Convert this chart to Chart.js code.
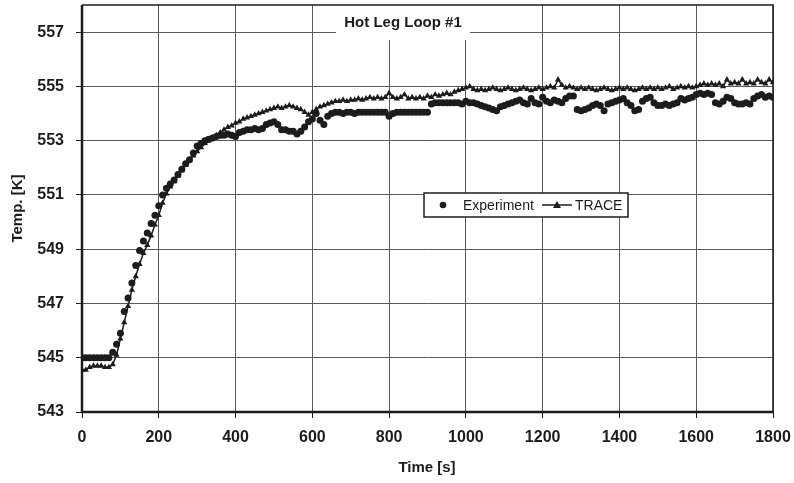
<!DOCTYPE html>
<html>
<head>
<meta charset="utf-8">
<script src="https://cdn.jsdelivr.net/npm/chart.js@4"></script>
<style>
  html, body { margin: 0; background: #fff; }
  #wrap { width: 794px; height: 483px; }
</style>
</head>
<body>
<div id="wrap"><canvas id="chart"></canvas></div>
<script>
// time [s], one sample every 10 s
const time = [
  0, 10, 20, 30, 40, 50, 60, 70, 80, 90,
  100, 110, 120, 130, 140, 150, 160, 170, 180, 190,
  200, 210, 220, 230, 240, 250, 260, 270, 280, 290,
  300, 310, 320, 330, 340, 350, 360, 370, 380, 390,
  400, 410, 420, 430, 440, 450, 460, 470, 480, 490,
  500, 510, 520, 530, 540, 550, 560, 570, 580, 590,
  600, 610, 620, 630, 640, 650, 660, 670, 680, 690,
  700, 710, 720, 730, 740, 750, 760, 770, 780, 790,
  800, 810, 820, 830, 840, 850, 860, 870, 880, 890,
  900, 910, 920, 930, 940, 950, 960, 970, 980, 990,
  1000, 1010, 1020, 1030, 1040, 1050, 1060, 1070, 1080, 1090,
  1100, 1110, 1120, 1130, 1140, 1150, 1160, 1170, 1180, 1190,
  1200, 1210, 1220, 1230, 1240, 1250, 1260, 1270, 1280, 1290,
  1300, 1310, 1320, 1330, 1340, 1350, 1360, 1370, 1380, 1390,
  1400, 1410, 1420, 1430, 1440, 1450, 1460, 1470, 1480, 1490,
  1500, 1510, 1520, 1530, 1540, 1550, 1560, 1570, 1580, 1590,
  1600, 1610, 1620, 1630, 1640, 1650, 1660, 1670, 1680, 1690,
  1700, 1710, 1720, 1730, 1740, 1750, 1760, 1770, 1780, 1790,
  1800
];

const experiment = [
  545.0, 545.0, 545.0, 545.0, 545.0, 545.0, 545.0, 545.0, 545.2, 545.5,
  545.9, 546.7, 547.2, 547.75, 548.4, 548.95, 549.3, 549.6, 549.95, 550.25,
  550.6, 551.0, 551.25, 551.4, 551.55, 551.75, 551.95, 552.15, 552.3, 552.55,
  552.8, 552.9, 553.0, 553.05, 553.1, 553.15, 553.2, 553.2, 553.25, 553.2,
  553.15, 553.3, 553.35, 553.4, 553.4, 553.45, 553.4, 553.45, 553.6, 553.65,
  553.7, 553.6, 553.4, 553.4, 553.35, 553.35, 553.25, 553.35, 553.5, 553.7,
  553.8, 554.0, 553.75, 553.6, 553.9, 554.0, 554.05, 554.05, 554.0, 554.05,
  554.05, 554.0, 554.05, 554.05, 554.05, 554.05, 554.05, 554.05, 554.05, 554.05,
  553.9, 554.0, 554.05, 554.05, 554.05, 554.05, 554.05, 554.05, 554.05, 554.05,
  554.05, 554.35, 554.4, 554.4, 554.4, 554.4, 554.4, 554.4, 554.4, 554.35,
  554.45, 554.4, 554.4, 554.35, 554.3, 554.25, 554.2, 554.15, 554.1, 554.25,
  554.3, 554.35, 554.4, 554.45, 554.5, 554.4, 554.35, 554.55, 554.4, 554.35,
  554.6, 554.45, 554.4, 554.5, 554.45, 554.4, 554.55, 554.65, 554.65, 554.15,
  554.1, 554.15, 554.2, 554.3, 554.35, 554.3, 554.1, 554.35, 554.4, 554.45,
  554.5, 554.55, 554.4, 554.3, 554.1, 554.15, 554.45, 554.55, 554.6, 554.4,
  554.3, 554.3, 554.35, 554.3, 554.35, 554.4, 554.55, 554.5, 554.55, 554.6,
  554.7, 554.75, 554.7, 554.75, 554.7, 554.4, 554.35, 554.45, 554.6, 554.55,
  554.4, 554.35, 554.35, 554.4, 554.35, 554.55, 554.65, 554.7, 554.6, 554.65,
  554.6
];

const trace = [
  544.55, 544.55, 544.65, 544.7, 544.7, 544.7, 544.65, 544.65, 544.75, 545.1,
  545.7, 546.3, 546.9, 547.5, 548.0, 548.45, 548.85, 549.15, 549.5, 549.9,
  550.25, 550.7, 551.05, 551.3, 551.5, 551.7, 551.9, 552.1, 552.3, 552.45,
  552.6, 552.75, 552.9, 553.0, 553.1, 553.2, 553.3, 553.4, 553.5, 553.55,
  553.65, 553.7, 553.8, 553.85, 553.9, 553.95, 554.0, 554.05, 554.1, 554.15,
  554.2, 554.25, 554.2, 554.25, 554.3, 554.25, 554.2, 554.15, 554.05, 553.95,
  554.05, 554.15, 554.25, 554.3, 554.35, 554.4, 554.45, 554.45, 554.5, 554.45,
  554.5, 554.5, 554.55, 554.5, 554.55, 554.6, 554.55, 554.6, 554.55, 554.6,
  554.75, 554.6, 554.55, 554.6, 554.7, 554.55, 554.6, 554.55, 554.6, 554.55,
  554.65, 554.6, 554.7, 554.65, 554.7, 554.75, 554.7, 554.8, 554.85, 554.9,
  554.95, 555.0, 554.9, 554.85, 554.9, 554.85, 554.9, 554.95, 554.9, 554.85,
  554.9, 554.95, 554.9, 554.85, 554.9, 554.95, 554.9, 554.85, 554.9, 554.95,
  554.9, 554.95, 555.0, 554.95, 555.25, 555.05, 554.95, 555.0, 554.95, 554.9,
  554.95, 554.9, 554.95, 554.9, 554.85, 554.9, 554.95, 554.9, 554.85, 554.9,
  554.95, 554.9, 554.95, 554.9, 554.85, 554.9, 554.95, 554.9, 554.95, 554.9,
  554.95, 554.9, 554.95, 555.0, 554.9, 554.95, 555.0, 554.95, 555.0, 554.95,
  555.0, 555.05, 555.1, 555.05, 555.1, 555.05, 555.1, 555.0, 555.25, 555.1,
  555.15, 555.1, 555.25, 555.1, 555.15, 555.1, 555.25, 555.15, 555.1, 555.25,
  555.15
];

const xTicks = [0, 200, 400, 600, 800, 1000, 1200, 1400, 1600, 1800];
const yTicks = [543, 545, 547, 549, 551, 553, 555, 557];

const ink = "#1c1c1c";
const gridColor = "#5a5a5a";
const fontFamily = "'Liberation Sans', Arial, sans-serif";

// keep the plot area where the reference has it
function fixBox(axis, size) {
  if (axis.isHorizontal()) axis.height = size; else axis.width = size;
  axis.paddingTop = 0;
  axis.paddingBottom = 0;
  axis.paddingLeft = 0;
  axis.paddingRight = 0;
}

// title, legend, frame and axis titles
const frame = {
  id: "frame",
  afterDatasetsDraw(chart) {
    const { ctx, chartArea: a } = chart;
    ctx.save();

    // title with white backing that cuts the grid
    ctx.fillStyle = "#fff";
    ctx.fillRect(336, a.top, 134, 35);
    ctx.fillStyle = ink;
    ctx.font = "bold 15px " + fontFamily;
    ctx.textAlign = "center";
    ctx.textBaseline = "middle";
    ctx.fillText("Hot Leg Loop #1", 403, 23);

    // legend box
    const lx = 424, ly = 193, lw = 204, lh = 24;
    ctx.fillStyle = "#fff";
    ctx.fillRect(lx, ly, lw, lh);
    ctx.strokeStyle = ink;
    ctx.lineWidth = 1.5;
    ctx.strokeRect(lx, ly, lw, lh);
    const cy = ly + lh / 2;
    ctx.fillStyle = ink;
    ctx.beginPath();
    ctx.arc(443, cy, 3.3, 0, Math.PI * 2);
    ctx.fill();
    ctx.font = "14px " + fontFamily;
    ctx.textAlign = "left";
    ctx.fillText("Experiment", 463, cy + 1);
    ctx.lineWidth = 1.5;
    ctx.beginPath();
    ctx.moveTo(542, cy);
    ctx.lineTo(572, cy);
    ctx.stroke();
    ctx.beginPath();
    ctx.moveTo(557, cy - 4);
    ctx.lineTo(561, cy + 3);
    ctx.lineTo(553, cy + 3);
    ctx.closePath();
    ctx.fill();
    ctx.fillText("TRACE", 575, cy + 1);

    // plot frame
    ctx.strokeStyle = ink;
    ctx.lineWidth = 1.5;
    ctx.beginPath();
    ctx.moveTo(a.left, a.top);
    ctx.lineTo(a.right, a.top);
    ctx.lineTo(a.right, a.bottom);
    ctx.stroke();
    ctx.lineWidth = 2.5;
    ctx.beginPath();
    ctx.moveTo(a.left, a.top);
    ctx.lineTo(a.left, a.bottom);
    ctx.lineTo(a.right, a.bottom);
    ctx.stroke();

    // axis titles
    ctx.font = "bold 15px " + fontFamily;
    ctx.textAlign = "center";
    ctx.textBaseline = "middle";
    ctx.fillText("Time [s]", 427, 468);
    ctx.translate(18, (a.top + a.bottom) / 2);
    ctx.rotate(-Math.PI / 2);
    ctx.fillText("Temp. [K]", 0, 0);
    ctx.restore();
  }
};

const ctx = document.getElementById("chart");
const chart = new Chart(ctx, {
  type: "line",
  data: {
    datasets: [
      {
        label: "Experiment",
        data: time.map((t, i) => ({ x: t, y: experiment[i] })),
        showLine: false,
        pointStyle: "circle",
        pointRadius: 3.5,
        pointBackgroundColor: ink,
        pointBorderColor: ink,
        pointBorderWidth: 0
      },
      {
        label: "TRACE",
        data: time.map((t, i) => ({ x: t, y: trace[i] })),
        borderColor: ink,
        borderWidth: 1.5,
        pointStyle: "triangle",
        pointRadius: 3.6,
        pointBackgroundColor: ink,
        pointBorderColor: ink,
        pointBorderWidth: 0,
        tension: 0
      }
    ]
  },
  options: {
    responsive: true,
    maintainAspectRatio: false,
    animation: false,
    devicePixelRatio: 1,
    layout: { padding: { top: 5, right: 21, left: 0, bottom: 0 } },
    plugins: {
      legend: { display: false },
      tooltip: { enabled: false }
    },
    scales: {
      x: {
        type: "linear",
        min: 0,
        max: 1800,
        afterBuildTicks: axis => { axis.ticks = xTicks.map(v => ({ value: v })); },
        afterFit: axis => fixBox(axis, 71),
        border: { display: false },
        grid: { color: gridColor, lineWidth: 1, tickLength: 6, tickColor: ink },
        ticks: {
          color: ink,
          padding: 10,
          maxRotation: 0,
          callback: v => String(v),
          font: { family: fontFamily, size: 16, weight: "bold" }
        }
      },
      y: {
        min: 543,
        max: 558,
        afterBuildTicks: axis => { axis.ticks = yTicks.map(v => ({ value: v })); },
        afterFit: axis => fixBox(axis, 82),
        border: { display: false },
        grid: { color: gridColor, lineWidth: 1, tickLength: 6, tickColor: ink },
        ticks: {
          color: ink,
          padding: 12,
          callback: v => String(v),
          font: { family: fontFamily, size: 16, weight: "bold" }
        }
      }
    }
  },
  plugins: [frame]
});
</script>
</body>
</html>
